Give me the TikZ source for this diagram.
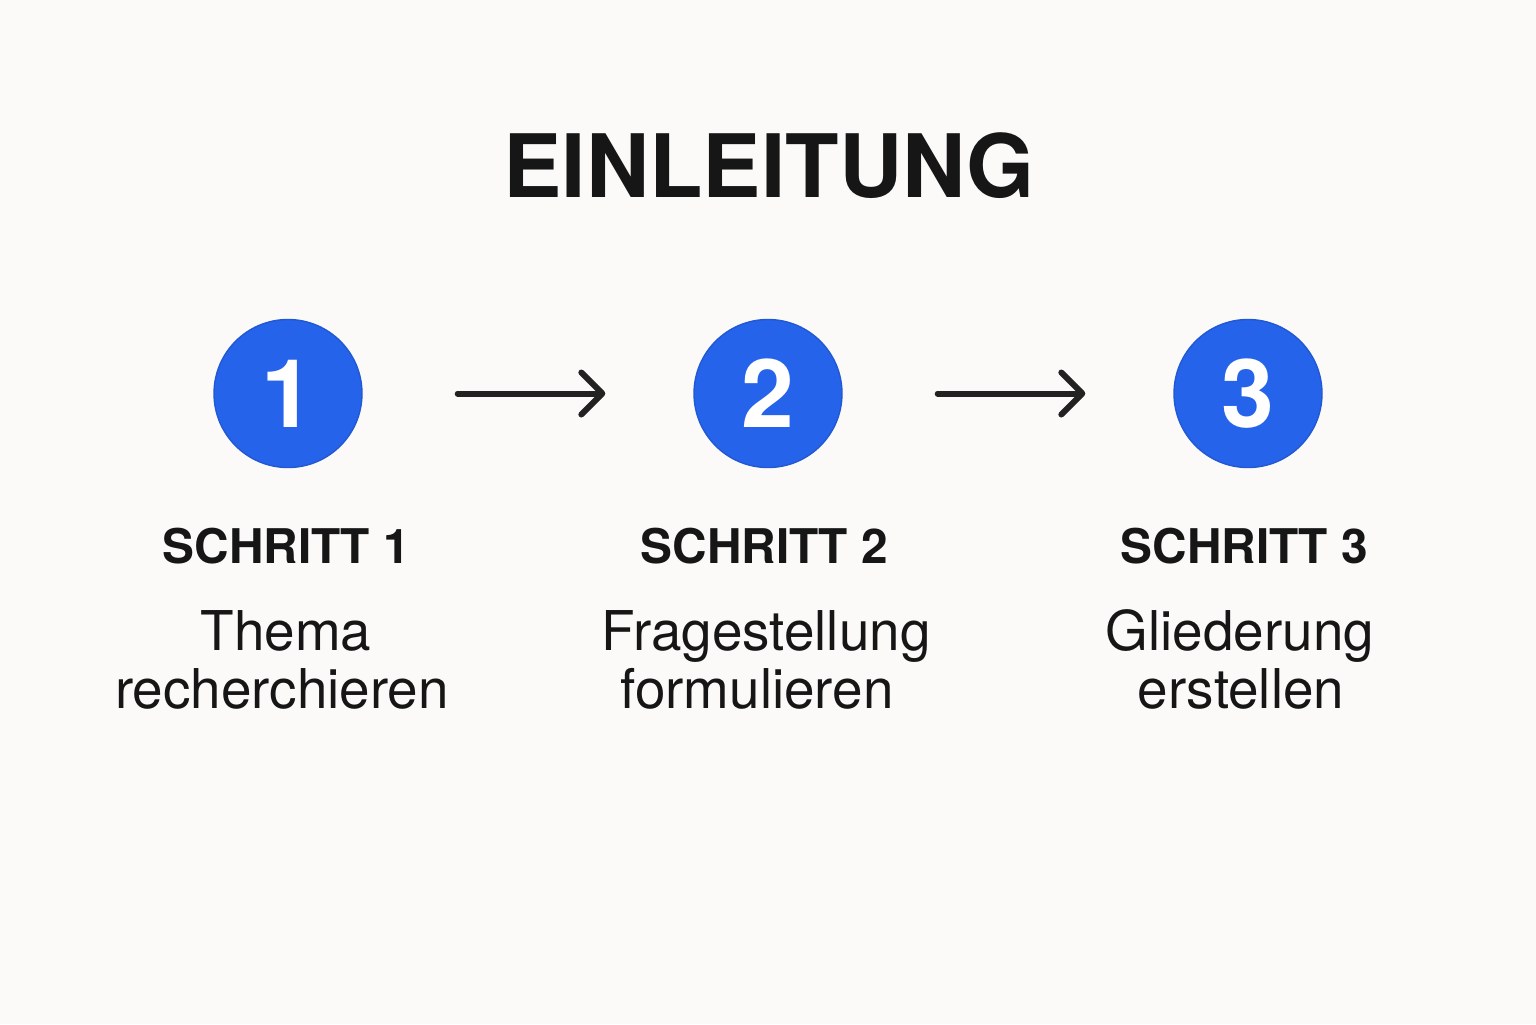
\documentclass[tikz,border=0pt]{standalone}
\usepackage{fontspec}
\setmainfont{TeX Gyre Heros}
\usetikzlibrary{arrows.meta}
\definecolor{bgc}{HTML}{FBFAF8}
\definecolor{blueC}{HTML}{2563EB}
\definecolor{inkC}{HTML}{161616}
\definecolor{arrowC}{HTML}{222222}
\tikzset{
  stepcircle/.style={circle, fill=blueC, draw=blueC!90!black, line width=0.4pt, minimum size=1.48cm, inner sep=0pt, text=white, font=\fontsize{27}{30}\selectfont\bfseries},
  steplabel/.style={anchor=base, text=inkC, inner sep=0pt, font=\fontsize{13.6}{16}\selectfont\bfseries},
  bodytext/.style={anchor=base, text=inkC, inner sep=0pt, font=\fontsize{15.6}{18}\selectfont},
  titletext/.style={anchor=base, text=inkC, inner sep=0pt, font=\fontsize{24.9}{30}\selectfont\bfseries},
  flowarrow/.style={draw=arrowC, line width=1.7pt, line cap=round,
    -{Straight Barb[length=2.1mm, width=4.2mm, line cap=round, line join=round]}}
}
\begin{document}
\begin{tikzpicture}
\fill[bgc] (0,0) rectangle (15.36,-10.24);
\useasboundingbox (0,0) rectangle (15.36,-10.24);

\node[titletext] (title) at (7.69,-1.97) {EINLEITUNG};

\node[stepcircle] (c1) at (2.88,-3.935) {1};
\node[stepcircle] (c2) at (7.68,-3.935) {2};
\node[stepcircle] (c3) at (12.48,-3.935) {3};

\draw[flowarrow, shorten <=0.95cm, shorten >=0.88cm] (c1) -- (c2);
\draw[flowarrow, shorten <=0.95cm, shorten >=0.88cm] (c2) -- (c3);

\node[steplabel] (s1) at (2.86,-5.63) {SCHRITT 1};
\node[steplabel] (s2) at (7.64,-5.63) {SCHRITT 2};
\node[steplabel] (s3) at (12.44,-5.63) {SCHRITT 3};

\node[bodytext] (t1a) at (2.86,-6.50) {Thema};
\node[bodytext] (t1b) at (2.82,-7.08) {recherchieren};
\node[bodytext] (t2a) at (7.66,-6.50) {Fragestellung};
\node[bodytext] (t2b) at (7.57,-7.08) {formulieren};
\node[bodytext] (t3a) at (12.40,-6.50) {Gliederung};
\node[bodytext] (t3b) at (12.41,-7.08) {erstellen};
\end{tikzpicture}
\end{document}
